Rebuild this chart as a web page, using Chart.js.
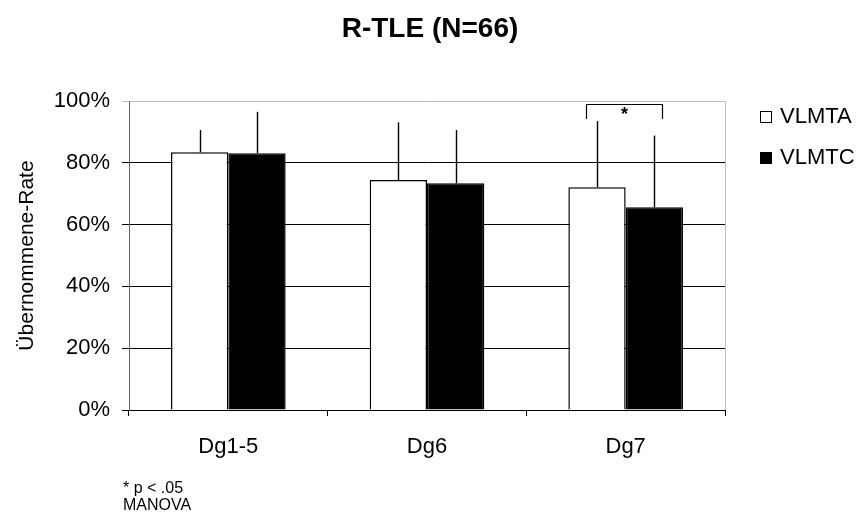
<!DOCTYPE html>
<html>
<head>
<meta charset="utf-8">
<script src="https://cdn.jsdelivr.net/npm/chart.js@4"></script>
<style>
  html, body { margin: 0; padding: 0; background: #fff; }
  #wrap { width: 860px; height: 513px; }
</style>
</head>
<body>
<div id="wrap"><canvas id="chart" width="860" height="513"></canvas></div>
<script>
const FONT = "'Liberation Sans', Arial, sans-serif";

// data
const categories = ["Dg1-5", "Dg6", "Dg7"];
const seriesNames = ["VLMTA", "VLMTC"];
const vlmtaMeans = [83.4, 74.4, 72.1];
const vlmtcMeans = [83.1, 73.4, 65.6];
const vlmtaErr = [7.2, 18.7, 21.4];
const vlmtcErr = [13.4, 17.2, 23.2];
const yTicks = [0, 20, 40, 60, 80, 100];
const sigCategory = 2; // bracket with "*" over Dg7
const sigLevel = 99;   // % where the bracket sits
const sigDrop = 94.2;  // % where the bracket legs end

const errors = [vlmtaErr, vlmtcErr];

// error bars, significance bracket, legend, titles
const extras = {
  id: "extras",
  afterDatasetsDraw(chart) {
    const ctx = chart.ctx;
    const y = chart.scales.y;
    const area = chart.chartArea;

    ctx.save();
    // right frame line
    ctx.strokeStyle = "#bfbfbf";
    ctx.lineWidth = 1;
    ctx.beginPath();
    ctx.moveTo(Math.round(area.right) + 0.5, area.top);
    ctx.lineTo(Math.round(area.right) + 0.5, area.bottom);
    ctx.stroke();

    // upward error bars
    ctx.strokeStyle = "#000";
    ctx.lineWidth = 1.4;
    chart.data.datasets.forEach((ds, i) => {
      const meta = chart.getDatasetMeta(i);
      meta.data.forEach((bar, j) => {
        const top = y.getPixelForValue(ds.data[j] + errors[i][j]);
        const x = Math.round(bar.x) + 0.5;
        ctx.beginPath();
        ctx.moveTo(x, bar.y);
        ctx.lineTo(x, top);
        ctx.stroke();
      });
    });

    // significance bracket
    const a = chart.getDatasetMeta(0).data[sigCategory];
    const c = chart.getDatasetMeta(1).data[sigCategory];
    const x1 = Math.round(a.x - a.width * 0.2) + 0.5;
    const x2 = Math.round(c.x + c.width * 0.14) + 0.5;
    const yb = Math.round(y.getPixelForValue(sigLevel)) + 0.5;
    const yl = y.getPixelForValue(sigDrop);
    ctx.lineWidth = 1.2;
    ctx.beginPath();
    ctx.moveTo(x1, yl);
    ctx.lineTo(x1, yb);
    ctx.lineTo(x2, yb);
    ctx.lineTo(x2, yl);
    ctx.stroke();
    ctx.fillStyle = "#000";
    ctx.font = "bold 18px " + FONT;
    ctx.textAlign = "center";
    ctx.textBaseline = "alphabetic";
    ctx.fillText("*", (x1 + x2) / 2, yb + 15);

    // chart title
    ctx.font = "bold 28px " + FONT;
    ctx.fillText("R-TLE (N=66)", 430, 37);

    // y axis title
    ctx.save();
    ctx.translate(33, (area.top + area.bottom) / 2);
    ctx.rotate(-Math.PI / 2);
    ctx.font = "21px " + FONT;
    ctx.fillText("Übernommene-Rate", 0, 0);
    ctx.restore();

    // legend
    ctx.textAlign = "left";
    ctx.font = "22px " + FONT;
    ctx.lineWidth = 1;
    seriesNames.forEach((name, i) => {
      const base = 123 + i * 41;
      const ds = chart.data.datasets[i];
      ctx.fillStyle = ds.backgroundColor;
      ctx.fillRect(760, base - 12, 12, 12);
      ctx.strokeStyle = "#000";
      ctx.strokeRect(760.5, base - 11.5, 11, 11);
      ctx.fillStyle = "#000";
      ctx.fillText(name, 780, base);
    });

    // footnote
    ctx.font = "16px " + FONT;
    ctx.fillText("* p < .05", 123, 493);
    ctx.fillText("MANOVA", 123, 510);
    ctx.restore();
  }
};

new Chart(document.getElementById("chart"), {
  type: "bar",
  data: {
    labels: categories,
    datasets: [
      {
        label: seriesNames[0],
        data: vlmtaMeans,
        backgroundColor: "#ffffff",
        borderColor: "#000000",
        borderWidth: 1.5,
        categoryPercentage: 0.577,
        barPercentage: 1.0,
      },
      {
        label: seriesNames[1],
        data: vlmtcMeans,
        backgroundColor: "#000000",
        borderColor: "#000000",
        borderWidth: 1.5,
        categoryPercentage: 0.577,
        barPercentage: 1.0,
      },
    ],
  },
  options: {
    responsive: false,
    animation: false,
    layout: { padding: { top: 101, right: 135, left: 0, bottom: 0 } },
    plugins: {
      legend: { display: false },
      title: { display: false },
      tooltip: { enabled: false },
    },
    scales: {
      x: {
        afterFit: (s) => { s.height = 103; },
        grid: { drawOnChartArea: false, tickLength: 6, color: "#000" },
        border: { color: "#000" },
        ticks: { color: "#000", padding: 18, font: { family: FONT, size: 22 } },
      },
      y: {
        min: 0,
        max: 100,
        afterFit: (s) => { s.width = 129; },
        afterBuildTicks: (s) => { s.ticks = yTicks.map((v) => ({ value: v })); },
        grid: {
          tickLength: 7,
          color: (c) => (c.tick && c.tick.value === 100 ? "#bfbfbf" : "#000"),
        },
        border: { color: "#666" },
        ticks: {
          color: "#000",
          padding: 12,
          font: { family: FONT, size: 22 },
          callback: (v) => v + "%",
        },
      },
    },
  },
  plugins: [extras],
});
</script>
</body>
</html>
